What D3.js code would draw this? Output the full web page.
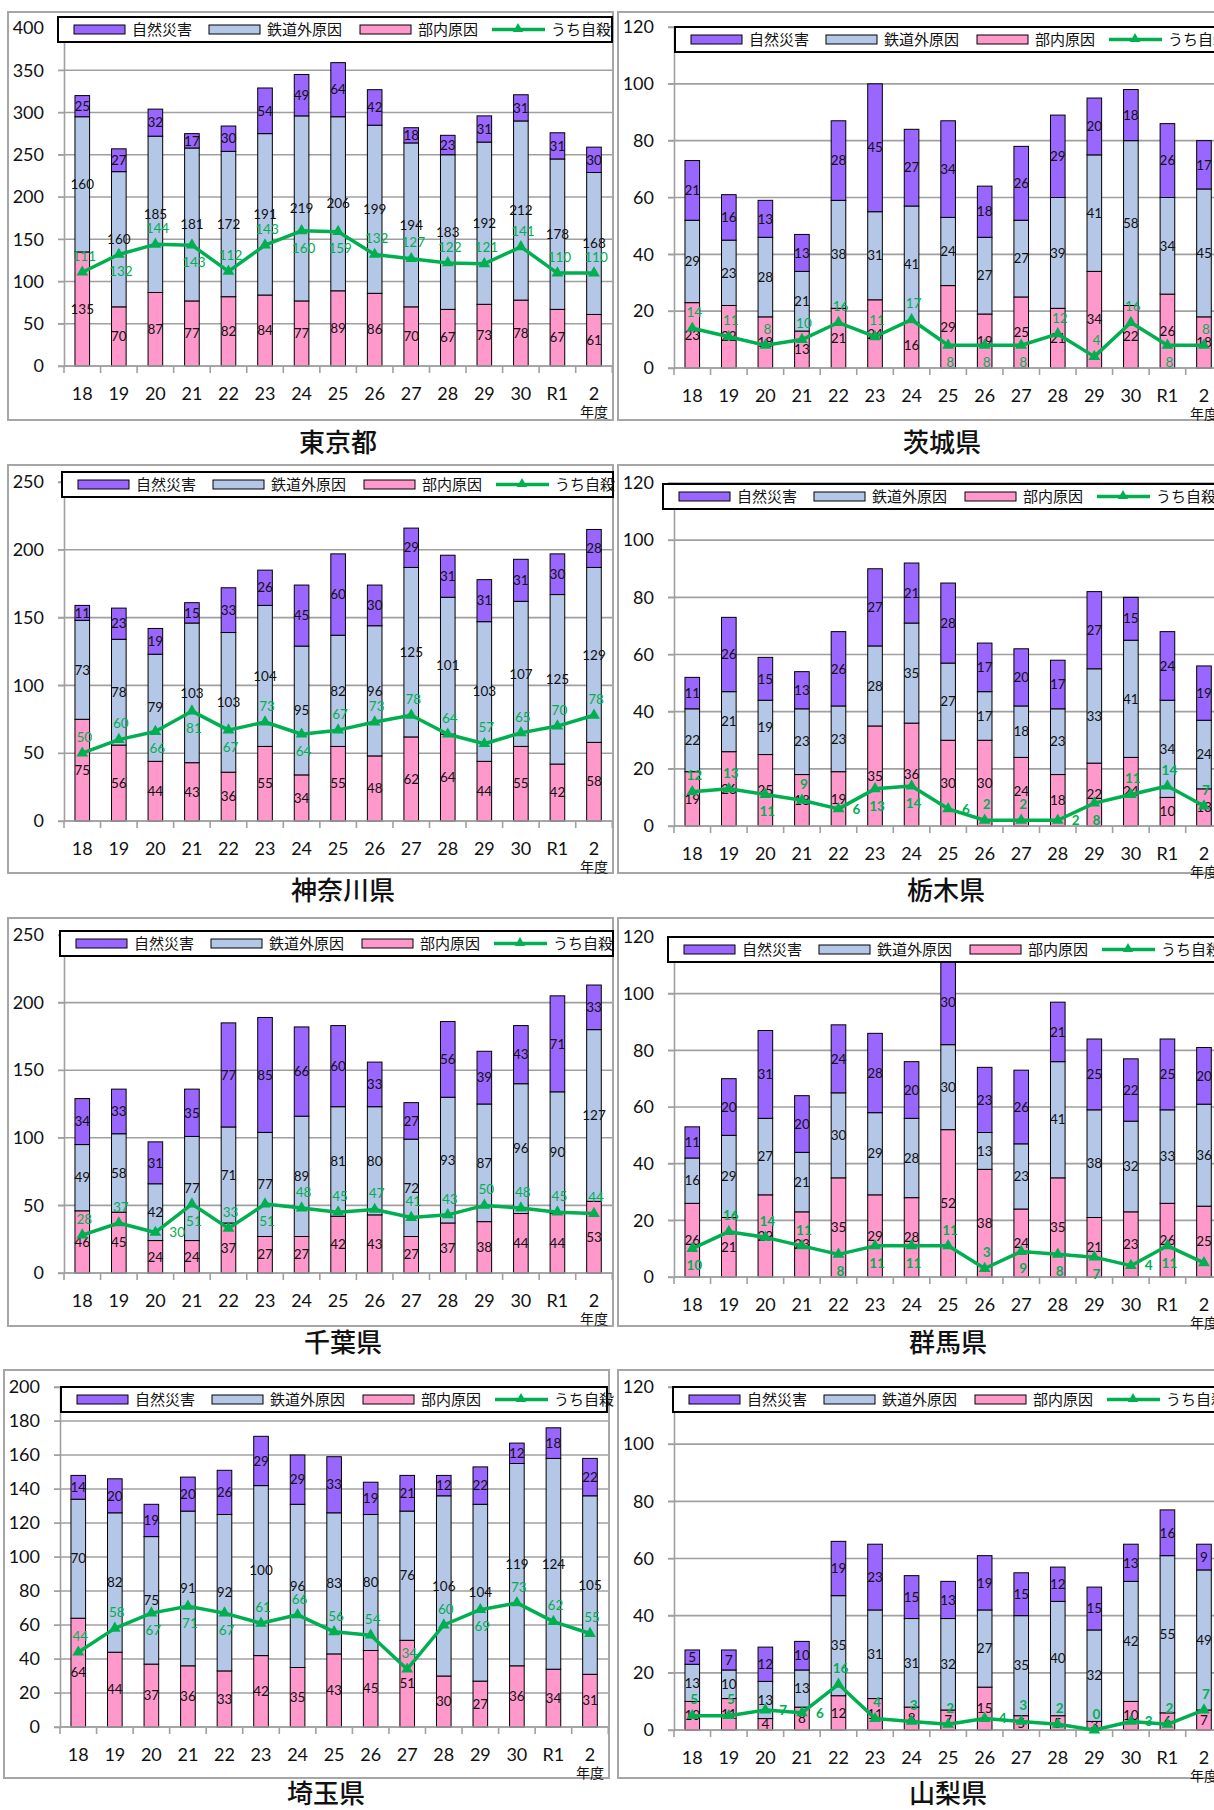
<!DOCTYPE html>
<html>
<head>
<meta charset="utf-8">
<script src="https://cdn.jsdelivr.net/npm/d3@7"></script>
<style>
body { margin: 0; background: #fff; }
svg { display: block; }
</style>
</head>
<body>
<script>
// categories / series
var years = ["18", "19", "20", "21", "22", "23", "24", "25", "26", "27", "28", "29", "30", "R1", "2"];
var seriesNames = ["自然災害", "鉄道外原因", "部内原因"];
var lineName = "うち自殺";

// 東京都
var tokyoInternal = [135, 70, 87, 77, 82, 84, 77, 89, 86, 70, 67, 73, 78, 67, 61];
var tokyoExternal = [160, 160, 185, 181, 172, 191, 219, 206, 199, 194, 183, 192, 212, 178, 168];
var tokyoDisaster = [25, 27, 32, 17, 30, 54, 49, 64, 42, 18, 23, 31, 31, 31, 30];
var tokyoSuicide = [111, 132, 144, 143, 112, 143, 160, 159, 132, 127, 122, 121, 141, 110, 110];

// 茨城県
var ibarakiInternal = [23, 22, 18, 13, 21, 24, 16, 29, 19, 25, 21, 34, 22, 26, 18];
var ibarakiExternal = [29, 23, 28, 21, 38, 31, 41, 24, 27, 27, 39, 41, 58, 34, 45];
var ibarakiDisaster = [21, 16, 13, 13, 28, 45, 27, 34, 18, 26, 29, 20, 18, 26, 17];
var ibarakiSuicide = [14, 11, 8, 10, 16, 11, 17, 8, 8, 8, 12, 4, 16, 8, 8];

// 神奈川県
var kanagawaInternal = [75, 56, 44, 43, 36, 55, 34, 55, 48, 62, 64, 44, 55, 42, 58];
var kanagawaExternal = [73, 78, 79, 103, 103, 104, 95, 82, 96, 125, 101, 103, 107, 125, 129];
var kanagawaDisaster = [11, 23, 19, 15, 33, 26, 45, 60, 30, 29, 31, 31, 31, 30, 28];
var kanagawaSuicide = [50, 60, 66, 81, 67, 73, 64, 67, 73, 78, 64, 57, 65, 70, 78];

// 栃木県
var tochigiInternal = [19, 26, 25, 18, 19, 35, 36, 30, 30, 24, 18, 22, 24, 10, 13];
var tochigiExternal = [22, 21, 19, 23, 23, 28, 35, 27, 17, 18, 23, 33, 41, 34, 24];
var tochigiDisaster = [11, 26, 15, 13, 26, 27, 21, 28, 17, 20, 17, 27, 15, 24, 19];
var tochigiSuicide = [12, 13, 11, 9, 6, 13, 14, 6, 2, 2, 2, 8, 11, 14, 7];

// 千葉県
var chibaInternal = [46, 45, 24, 24, 37, 27, 27, 42, 43, 27, 37, 38, 44, 44, 53];
var chibaExternal = [49, 58, 42, 77, 71, 77, 89, 81, 80, 72, 93, 87, 96, 90, 127];
var chibaDisaster = [34, 33, 31, 35, 77, 85, 66, 60, 33, 27, 56, 39, 43, 71, 33];
var chibaSuicide = [28, 37, 30, 51, 33, 51, 48, 45, 47, 41, 43, 50, 48, 45, 44];

// 群馬県
var gunmaInternal = [26, 21, 29, 23, 35, 29, 28, 52, 38, 24, 35, 21, 23, 26, 25];
var gunmaExternal = [16, 29, 27, 21, 30, 29, 28, 30, 13, 23, 41, 38, 32, 33, 36];
var gunmaDisaster = [11, 20, 31, 20, 24, 28, 20, 30, 23, 26, 21, 25, 22, 25, 20];
var gunmaSuicide = [10, 16, 14, 11, 8, 11, 11, 11, 3, 9, 8, 7, 4, 11, 5];

// 埼玉県
var saitamaInternal = [64, 44, 37, 36, 33, 42, 35, 43, 45, 51, 30, 27, 36, 34, 31];
var saitamaExternal = [70, 82, 75, 91, 92, 100, 96, 83, 80, 76, 106, 104, 119, 124, 105];
var saitamaDisaster = [14, 20, 19, 20, 26, 29, 29, 33, 19, 21, 12, 22, 12, 18, 22];
var saitamaSuicide = [44, 58, 67, 71, 67, 61, 66, 56, 54, 34, 60, 69, 73, 62, 55];

// 山梨県
var yamanashiInternal = [10, 11, 4, 8, 12, 11, 8, 7, 15, 5, 5, 3, 10, 6, 7];
var yamanashiExternal = [13, 10, 13, 13, 35, 31, 31, 32, 27, 35, 40, 32, 42, 55, 49];
var yamanashiDisaster = [5, 7, 12, 10, 19, 23, 15, 13, 19, 15, 12, 15, 13, 16, 9];
var yamanashiSuicide = [5, 5, 7, 6, 16, 4, 3, 2, 4, 3, 2, 0, 3, 2, 7];

var colors = { disaster: "#9966ff", external: "#b4c7e7", internal: "#ff99cc", line: "#00b050" };
var numFont = "Lato, 'DejaVu Sans', sans-serif";
var jpFont = "'Noto Sans CJK JP', sans-serif";

var panels = [
  { title: "東京都", internal: tokyoInternal, external: tokyoExternal, disaster: tokyoDisaster, suicide: tokyoSuicide,
    yMax: 400, yStep: 50, fx: 8, fy: 12, fw: 605, ax: 64, yTop: 28, yBot: 366, lx: 58, ly: 17, lw: 554, tx: 338, ty: 452, bold: false },
  { title: "茨城県", internal: ibarakiInternal, external: ibarakiExternal, disaster: ibarakiDisaster, suicide: ibarakiSuicide,
    yMax: 120, yStep: 20, fx: 618, fy: 12, fw: 700, ax: 674, yTop: 27, yBot: 368, lx: 675, ly: 27, lw: 600, tx: 942, ty: 452, bold: false },
  { title: "神奈川県", internal: kanagawaInternal, external: kanagawaExternal, disaster: kanagawaDisaster, suicide: kanagawaSuicide,
    yMax: 250, yStep: 50, fx: 8, fy: 465, fw: 605, ax: 64, yTop: 482, yBot: 821, lx: 62, ly: 472, lw: 551, tx: 343, ty: 900, bold: false },
  { title: "栃木県", internal: tochigiInternal, external: tochigiExternal, disaster: tochigiDisaster, suicide: tochigiSuicide,
    yMax: 120, yStep: 20, fx: 618, fy: 465, fw: 700, ax: 674, yTop: 483, yBot: 826, lx: 663, ly: 484, lw: 600, tx: 946, ty: 900, bold: true },
  { title: "千葉県", internal: chibaInternal, external: chibaExternal, disaster: chibaDisaster, suicide: chibaSuicide,
    yMax: 250, yStep: 50, fx: 8, fy: 918, fw: 605, ax: 64, yTop: 935, yBot: 1273, lx: 60, ly: 931, lw: 553, tx: 343, ty: 1352, bold: false },
  { title: "群馬県", internal: gunmaInternal, external: gunmaExternal, disaster: gunmaDisaster, suicide: gunmaSuicide,
    yMax: 120, yStep: 20, fx: 618, fy: 918, fw: 700, ax: 674, yTop: 937, yBot: 1277, lx: 668, ly: 937, lw: 600, tx: 948, ty: 1352, bold: true },
  { title: "埼玉県", internal: saitamaInternal, external: saitamaExternal, disaster: saitamaDisaster, suicide: saitamaSuicide,
    yMax: 200, yStep: 20, fx: 4, fy: 1370, fw: 605, ax: 60, yTop: 1387, yBot: 1727, lx: 61, ly: 1387, lw: 546, tx: 326, ty: 1803, bold: false },
  { title: "山梨県", internal: yamanashiInternal, external: yamanashiExternal, disaster: yamanashiDisaster, suicide: yamanashiSuicide,
    yMax: 120, yStep: 20, fx: 618, fy: 1370, fw: 700, ax: 674, yTop: 1387, yBot: 1730, lx: 673, ly: 1387, lw: 600, tx: 948, ty: 1803, bold: true }
];

var svg = d3.select("body").append("svg")
  .attr("width", 1214)
  .attr("height", 1810);

var step = 36.55;
var keys = ["internal", "external", "disaster"];

// overlap area of two boxes {x0,x1,y0,y1}
function overlap(a, b) {
  var w = Math.min(a.x1, b.x1) - Math.max(a.x0, b.x0);
  var h = Math.min(a.y1, b.y1) - Math.max(a.y0, b.y0);
  return (w > 0 && h > 0) ? w * h : 0;
}

panels.forEach(function(p) {
  var g = svg.append("g");
  var plotW = step * years.length;

  // frame
  g.append("rect")
    .attr("x", p.fx).attr("y", p.fy)
    .attr("width", p.fw).attr("height", 408)
    .attr("fill", "none").attr("stroke", "#a6a6a6").attr("stroke-width", 2);

  var x = d3.scaleBand().domain(years)
    .range([p.ax, p.ax + plotW])
    .paddingInner(0.6).paddingOuter(0.3);
  var y = d3.scaleLinear().domain([0, p.yMax]).range([p.yBot, p.yTop]);
  var ticks = d3.range(0, p.yMax + 1, p.yStep);
  var cx = function(yr) { return x(yr) + x.bandwidth() / 2; };

  // gridlines
  g.selectAll(".grid").data(ticks).enter().append("line")
    .attr("x1", p.ax - 6).attr("x2", p.ax + plotW)
    .attr("y1", function(d) { return y(d); })
    .attr("y2", function(d) { return y(d); })
    .attr("stroke", "#a0a0a0").attr("stroke-width", 1.6);

  // y axis
  var yAxis = g.append("g")
    .attr("transform", "translate(" + p.ax + ",0)")
    .call(d3.axisLeft(y).tickValues(ticks).tickSize(6).tickPadding(14));
  yAxis.select(".domain").attr("stroke", "#a0a0a0").attr("stroke-width", 1.6);
  yAxis.selectAll(".tick line").attr("stroke", "#a0a0a0");
  yAxis.selectAll("text")
    .attr("font-family", numFont).attr("font-size", 18).attr("fill", "#111");

  // stacked bars
  var rows = years.map(function(yr, i) {
    return { year: yr, internal: p.internal[i], external: p.external[i], disaster: p.disaster[i] };
  });
  var stacked = d3.stack().keys(keys)(rows);

  var layers = g.selectAll(".layer").data(stacked).enter().append("g")
    .attr("fill", function(d) { return colors[d.key]; });
  layers.selectAll("rect").data(function(d) { return d; }).enter().append("rect")
    .attr("x", function(d) { return x(d.data.year); })
    .attr("y", function(d) { return y(d[1]); })
    .attr("width", x.bandwidth())
    .attr("height", function(d) { return y(d[0]) - y(d[1]); })
    .attr("stroke", "#000").attr("stroke-width", 1);

  // x axis
  g.append("line")
    .attr("x1", p.ax).attr("x2", p.ax + plotW)
    .attr("y1", p.yBot).attr("y2", p.yBot)
    .attr("stroke", "#a0a0a0").attr("stroke-width", 1.6);
  g.selectAll(".xtick").data(d3.range(years.length + 1)).enter().append("line")
    .attr("x1", function(i) { return p.ax + i * step; })
    .attr("x2", function(i) { return p.ax + i * step; })
    .attr("y1", p.yBot).attr("y2", p.yBot + 7)
    .attr("stroke", "#a0a0a0").attr("stroke-width", 1.6);
  g.selectAll(".xlab").data(years).enter().append("text")
    .attr("x", cx)
    .attr("y", p.yBot + 34)
    .attr("text-anchor", "middle")
    .attr("font-family", numFont).attr("font-size", 18).attr("fill", "#111")
    .text(function(d) { return d; });
  g.append("text")
    .attr("x", cx(years[years.length - 1]))
    .attr("y", p.yBot + 51)
    .attr("text-anchor", "middle")
    .attr("font-family", jpFont).attr("font-size", 14).attr("fill", "#111")
    .text("年度");

  // segment labels (centred in each segment)
  var segBoxes = years.map(function() { return []; });
  stacked.forEach(function(layer) {
    layer.forEach(function(d, i) {
      var v = d[1] - d[0];
      var ly = y((d[0] + d[1]) / 2);
      var hw = String(v).length * 3.8;
      segBoxes[i].push({ x0: cx(d.data.year) - hw, x1: cx(d.data.year) + hw, y0: ly - 6, y1: ly + 6 });
    });
  });
  layers.selectAll("text").data(function(d) { return d; }).enter().append("text")
    .attr("x", function(d) { return cx(d.data.year); })
    .attr("y", function(d) { return y((d[0] + d[1]) / 2); })
    .attr("dy", "0.35em")
    .attr("text-anchor", "middle")
    .attr("font-family", numFont).attr("font-size", 13.5).attr("fill", "#111")
    .text(function(d) { return d[1] - d[0]; });

  // suicide line
  var line = d3.line()
    .x(function(d, i) { return cx(years[i]); })
    .y(function(d) { return y(d); });
  g.append("path").datum(p.suicide)
    .attr("d", line)
    .attr("fill", "none").attr("stroke", colors.line).attr("stroke-width", 3.5)
    .attr("stroke-linejoin", "round");
  g.selectAll(".mark").data(p.suicide).enter().append("path")
    .attr("transform", function(d, i) {
      return "translate(" + cx(years[i]) + "," + y(d) + ")";
    })
    .attr("d", d3.symbol().type(d3.symbolTriangle).size(60))
    .attr("fill", colors.line);

  // suicide labels: above, below or beside the marker, whichever clashes least
  var placed = p.suicide.map(function(v, i) {
    var px = cx(years[i]), py = y(v);
    var hw = String(v).length * 3.9;
    var cands = [
      { x: px + 2, y: py - 16 },
      { x: px + 2, y: py + 17 },
      { x: px + 14 + hw, y: py },
      { x: px - 14 - hw, y: py }
    ];
    var best = null, bestScore = Infinity;
    cands.forEach(function(c, k) {
      var box = { x0: c.x - hw, x1: c.x + hw, y0: c.y - 6, y1: c.y + 6 };
      var score = k * 2;
      segBoxes[i].forEach(function(s) { score += overlap(box, s); });
      if (box.y1 > p.yBot + 4) score += 500;
      if (score < bestScore) { bestScore = score; best = c; }
    });
    return { v: v, x: best.x, y: best.y };
  });
  g.selectAll(".slab").data(placed).enter().append("text")
    .attr("x", function(d) { return d.x; })
    .attr("y", function(d) { return d.y; })
    .attr("dy", "0.35em")
    .attr("text-anchor", "middle")
    .attr("font-family", numFont).attr("font-size", 13.5)
    .attr("font-weight", p.bold ? "bold" : "normal")
    .attr("fill", colors.line)
    .text(function(d) { return d.v; });

  // legend
  var lg = g.append("g").attr("transform", "translate(" + p.lx + "," + p.ly + ")");
  lg.append("rect")
    .attr("width", p.lw).attr("height", 25)
    .attr("fill", "#fff").attr("stroke", "#000").attr("stroke-width", 2);
  var legendKeys = ["disaster", "external", "internal"];
  var offsets = [16, 151, 302];
  legendKeys.forEach(function(k, i) {
    lg.append("rect")
      .attr("x", offsets[i]).attr("y", 8)
      .attr("width", 51).attr("height", 9)
      .attr("fill", colors[k]).attr("stroke", "#000").attr("stroke-width", 1);
    lg.append("text")
      .attr("x", offsets[i] + 58).attr("y", 13)
      .attr("dy", "0.36em")
      .attr("font-family", jpFont).attr("font-size", 15).attr("fill", "#111")
      .text(seriesNames[i]);
  });
  lg.append("line")
    .attr("x1", 434).attr("x2", 487).attr("y1", 12.5).attr("y2", 12.5)
    .attr("stroke", colors.line).attr("stroke-width", 3.5);
  lg.append("path")
    .attr("transform", "translate(460,12)")
    .attr("d", d3.symbol().type(d3.symbolTriangle).size(45))
    .attr("fill", colors.line);
  lg.append("text")
    .attr("x", 493).attr("y", 13)
    .attr("dy", "0.36em")
    .attr("font-family", jpFont).attr("font-size", 15).attr("fill", "#111")
    .text(lineName);

  // title
  g.append("text")
    .attr("x", p.tx).attr("y", p.ty)
    .attr("text-anchor", "middle")
    .attr("font-family", jpFont).attr("font-size", 26).attr("font-weight", 500).attr("fill", "#111")
    .text(p.title);
});
</script>
</body>
</html>
